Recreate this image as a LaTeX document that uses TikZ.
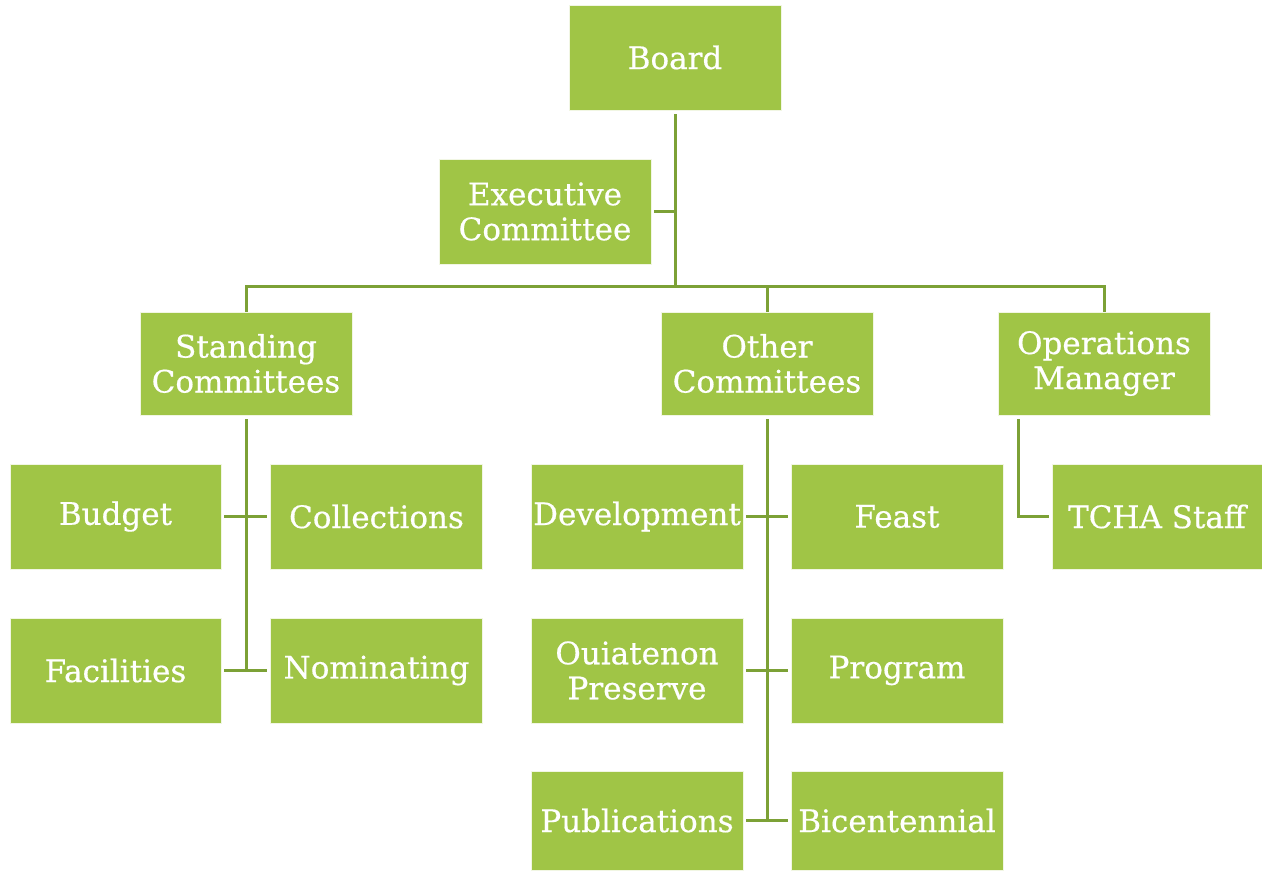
\documentclass[tikz,border=0pt]{standalone}
\usepackage{fontspec}
\setmainfont[FakeBold=0.5]{DejaVu Serif}
\usetikzlibrary{calc}
\definecolor{boxgreen}{RGB}{160,197,70}
\definecolor{linegreen}{RGB}{124,161,54}
\begin{document}
\begin{tikzpicture}[x=1pt,y=1pt,
  box/.style={fill=boxgreen, draw=white!85!boxgreen, line width=0.8pt, text=white,
    minimum width=212pt, minimum height=105pt, inner sep=0pt, align=center,
    font=\fontsize{31}{35}\selectfont},
  conn/.style={draw=linegreen, line width=3pt}]
\useasboundingbox (0,0) rectangle (1262,871);
% level 1
\node[box] (board) at (675,813.5) {Board};
\node[box] (exec) at (545,659.5) {Executive\\Committee};
% level 2
\node[box, minimum height=103pt] (stand) at (246,507.5) {Standing\\Committees};
\node[box, minimum height=103pt] (other) at (767,507.5) {Other\\Committees};
\node[box, minimum height=103pt] (ops) at (1104,507.5) {Operations\\Manager};
% standing
\node[box, minimum width=211pt] (budget) at (115.5,354.5) {Budget};
\node[box, minimum width=212pt] (coll) at (376.5,354.5) {Collections};
\node[box, minimum width=211pt] (fac) at (115.5,200.5) {Facilities};
\node[box, minimum width=212pt] (nom) at (376.5,200.5) {Nominating};
% other
\node[box] (dev) at (637,354.5) {Development};
\node[box] (feast) at (897,354.5) {Feast};
\node[box] (oui) at (637,200.5) {Ouiatenon\\Preserve};
\node[box] (prog) at (897,200.5) {Program};
\node[box, minimum height=99pt] (pub) at (637,50.5) {Publications};
\node[box, minimum height=99pt] (bic) at (897,50.5) {Bicentennial};
% ops
\node[box, minimum width=210pt] (staff) at (1157,354.5) {TCHA Staff};
% connectors
\coordinate (bus) at (675,584);
\coordinate (trunkexec) at (675,659.5);
\coordinate (bl) at (246,584);
\coordinate (bm) at (767,584);
\coordinate (br) at (1104.5,584);
\draw[conn] ($(board.south)+(0,-4)$) -- (bus);
\draw[conn] ($(exec.east)+(3,0)$) -- (trunkexec);
\draw[conn] (bl) -- (br);
\draw[conn] ($(bl)+(0,1.5)$) -- (stand.north);
\draw[conn] ($(bm)+(0,1.5)$) -- (other.north);
\draw[conn] ($(br)+(0,1.5)$) -- (ops.north -| br);
% standing subtree
\coordinate (sbot) at (246,200.5);
\draw[conn] ($(stand.south)+(0,-4)$) -- ($(sbot)+(0,-1.5)$);
\draw[conn] ($(budget.east)+(3,0)$) -- ($(coll.west)+(-3,0)$);
\draw[conn] ($(fac.east)+(3,0)$) -- ($(nom.west)+(-3,0)$);
% other subtree
\coordinate (obot) at (767,50.5);
\draw[conn] ($(other.south)+(0,-4)$) -- ($(obot)+(0,-1.5)$);
\draw[conn] ($(dev.east)+(3,0)$) -- ($(feast.west)+(-3,0)$);
\draw[conn] ($(oui.east)+(3,0)$) -- ($(prog.west)+(-3,0)$);
\draw[conn] ($(pub.east)+(3,0)$) -- ($(bic.west)+(-3,0)$);
% ops subtree
\coordinate (ostart) at ($(ops.south west)+(21,-4)$);
\draw[conn] (ostart) |- ($(staff.west)+(-3,0)$);
\end{tikzpicture}
\end{document}
